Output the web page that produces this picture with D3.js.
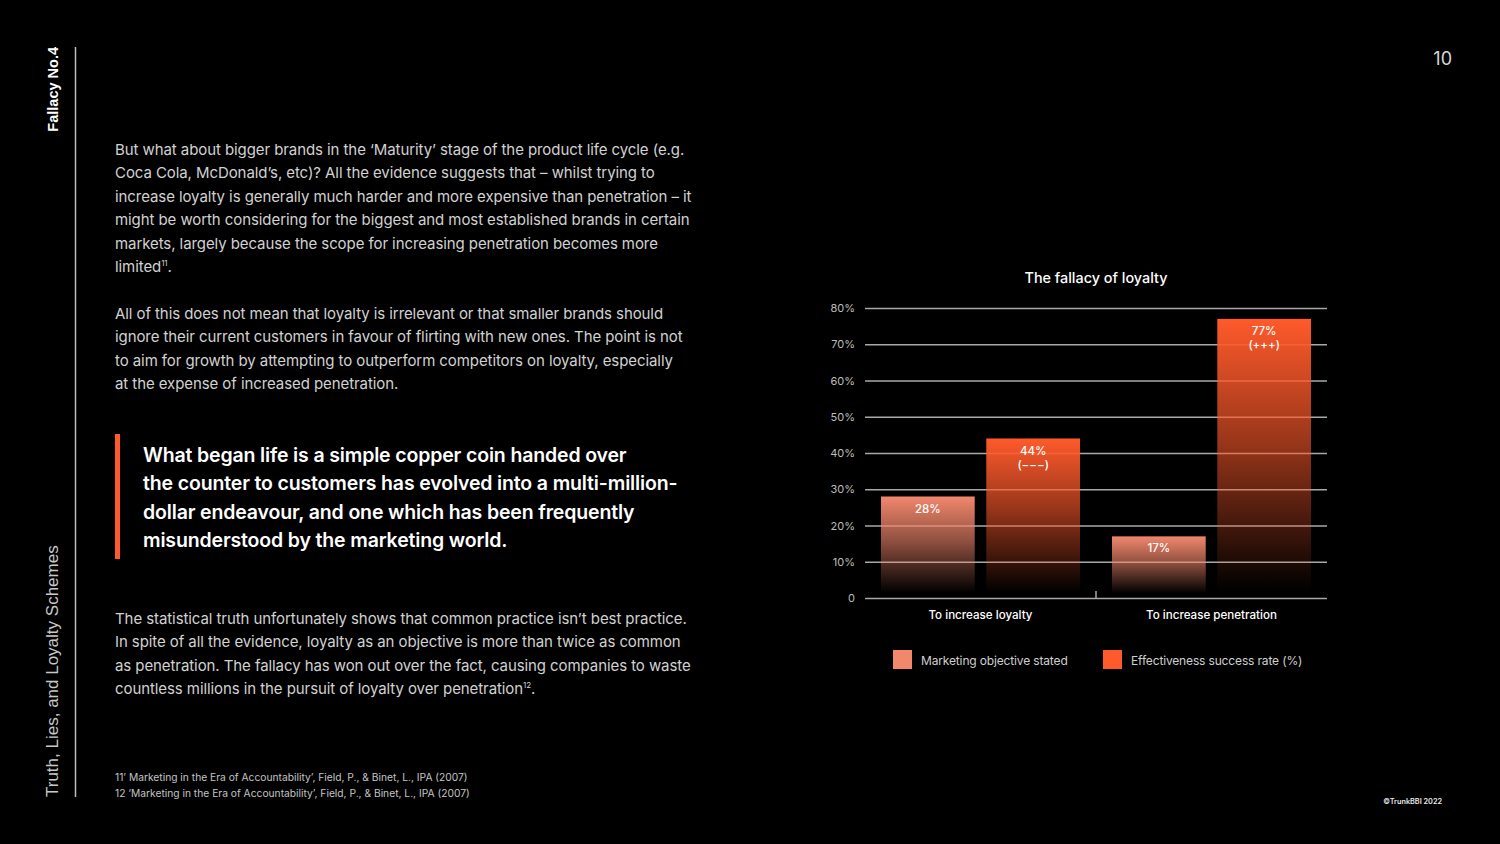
<!DOCTYPE html>
<html><head><meta charset="utf-8">
<script src="https://cdn.jsdelivr.net/npm/d3@7"></script>
<style>
html,body{margin:0;padding:0;background:#000;}
svg{display:block;}
</style></head>
<body>
<script>
// ---- data ----
const categories = ["To increase loyalty", "To increase penetration"];
const seriesNames = ["Marketing objective stated", "Effectiveness success rate (%)"];
const objectiveStated = [28, 17];
const successRate = [44, 77];
const successNotes = ["(−−−)", "(+++)"];
const yTicks = [0, 10, 20, 30, 40, 50, 60, 70, 80];
const seriesColors = ["#f2876c", "#ff5a2b"];

const para1 = ["But what about bigger brands in the \u2018Maturity\u2019 stage of the product life cycle (e.g.",
  "Coca Cola, McDonald\u2019s, etc)? All the evidence suggests that \u2013 whilst trying to",
  "increase loyalty is generally much harder and more expensive than penetration \u2013 it",
  "might be worth considering for the biggest and most established brands in certain",
  "markets, largely because the scope for increasing penetration becomes more"];
const para2 = ["All of this does not mean that loyalty is irrelevant or that smaller brands should",
  "ignore their current customers in favour of flirting with new ones. The point is not",
  "to aim for growth by attempting to outperform competitors on loyalty, especially",
  "at the expense of increased penetration."];
const quote = ["What began life is a simple copper coin handed over",
  "the counter to customers has evolved into a multi-million-",
  "dollar endeavour, and one which has been frequently",
  "misunderstood by the marketing world."];
const para3 = ["The statistical truth unfortunately shows that common practice isn\u2019t best practice.",
  "In spite of all the evidence, loyalty as an objective is more than twice as common",
  "as penetration. The fallacy has won out over the fact, causing companies to waste"];
const footnotes = ["11\u2019 Marketing in the Era of Accountability\u2019, Field, P., & Binet, L., IPA (2007)",
  "12 \u2018Marketing in the Era of Accountability\u2019, Field, P., & Binet, L., IPA (2007)"];

const W = 1500, H = 844;
const FONT = "Inter, 'Noto Sans', sans-serif";
const svg = d3.select("body").append("svg").attr("width", W).attr("height", H)
  .style("background", "#000");

// ---- side decorations ----
svg.append("line").attr("x1", 75.5).attr("x2", 75.5).attr("y1", 47).attr("y2", 797)
  .attr("stroke", "#bdbdbd").attr("stroke-width", 1.5);
svg.append("text").attr("transform", "translate(58,47) rotate(-90)")
  .attr("text-anchor", "end").attr("font-family", "'Liberation Sans', Arial, sans-serif")
  .attr("font-size", 14.5).attr("font-weight", 700).attr("fill", "#fff").text("Fallacy No.4");
svg.append("text").attr("transform", "translate(58,797) rotate(-90)")
  .attr("text-anchor", "start").attr("font-family", "'Liberation Sans', Arial, sans-serif")
  .attr("font-size", 17).attr("fill", "#c8c8c8").text("Truth, Lies, and Loyalty Schemes");
svg.append("text").attr("x", 1452).attr("y", 65).attr("text-anchor", "end")
  .attr("font-family", FONT).attr("font-size", 18).attr("fill", "#d8d8d8").text("10");
svg.append("text").attr("x", 1442).attr("y", 804).attr("text-anchor", "end")
  .attr("font-family", FONT).attr("font-size", 7.3).attr("font-weight", 600).attr("fill", "#e8e8e8").text("\u00a9TrunkBBI 2022");

// ---- body text ----
function block(lines, x, y0, lh, size, color, weight, ls) {
  const t = svg.append("g");
  lines.forEach((l, i) => {
    t.append("text").attr("x", x).attr("y", y0 + i * lh)
      .attr("font-family", FONT).attr("font-size", size).attr("font-weight", weight || 400)
      .attr("fill", color).attr("letter-spacing", ls === undefined ? -0.08 : ls).text(l);
  });
  return t;
}
const bodyColor = "#d2d2d2";
block(para1, 115, 155, 23.4, 15, bodyColor);
const lim = svg.append("text").attr("x", 115).attr("y", 155 + 5 * 23.4)
  .attr("font-family", FONT).attr("font-size", 15).attr("fill", bodyColor).attr("letter-spacing", -0.08);
lim.append("tspan").text("limited");
lim.append("tspan").attr("font-size", 8).attr("dy", -6).text("11");
lim.append("tspan").attr("dy", 6).text(".");
block(para2, 115, 319, 23.4, 15, bodyColor);
svg.append("rect").attr("x", 115).attr("y", 434).attr("width", 5).attr("height", 125).attr("fill", "#ff5a2b");
block(quote, 143, 462, 28.3, 19.5, "#fff", 600, -0.15);
block(para3, 115, 624, 23.4, 15, bodyColor);
const last = svg.append("text").attr("x", 115).attr("y", 624 + 3 * 23.4)
  .attr("font-family", FONT).attr("font-size", 15).attr("fill", bodyColor).attr("letter-spacing", -0.08);
last.append("tspan").text("countless millions in the pursuit of loyalty over penetration");
last.append("tspan").attr("font-size", 8).attr("dy", -6).text("12");
last.append("tspan").attr("dy", 6).text(".");
block(footnotes, 115, 781, 16, 10.25, "#c4c4c4", 400, 0);

// ---- chart ----
const x0 = d3.scaleBand().domain(categories).range([865, 1327]).paddingInner(0).paddingOuter(0);
const x1 = d3.scaleBand().domain([0, 1]).range([16, x0.bandwidth() - 16]).paddingInner(0.11);
const y = d3.scaleLinear().domain([0, 80]).range([598, 308]);

svg.append("text").attr("x", 1096).attr("y", 283).attr("text-anchor", "middle")
  .attr("font-family", FONT).attr("font-size", 14.4).attr("font-weight", 500).attr("fill", "#fff")
  .text("The fallacy of loyalty");

const defs = svg.append("defs");
seriesColors.forEach((c, i) => {
  const g = defs.append("linearGradient").attr("id", "grad" + i)
    .attr("x1", 0).attr("x2", 0).attr("y1", 0).attr("y2", 1);
  g.append("stop").attr("offset", "0%").attr("stop-color", c).attr("stop-opacity", 1);
  g.append("stop").attr("offset", "45%").attr("stop-color", c).attr("stop-opacity", 0.6);
  g.append("stop").attr("offset", "97%").attr("stop-color", c).attr("stop-opacity", 0.02);
  g.append("stop").attr("offset", "100%").attr("stop-color", c).attr("stop-opacity", 0);
});

// gridlines
const yAxis = d3.axisLeft(y).tickValues(yTicks).tickSize(-462)
  .tickFormat(d => d === 0 ? "0" : d + "%");
const ga = svg.append("g").attr("transform", "translate(865,0)").call(yAxis);
ga.select(".domain").remove();
ga.selectAll(".tick line").attr("stroke", "#a8a8a8").attr("stroke-width", 1.5);
ga.selectAll(".tick text").attr("x", -10).attr("fill", "#bdbdbd")
  .attr("font-family", FONT).attr("font-size", 11);

// bars
const groups = svg.append("g").selectAll("g").data(categories).join("g")
  .attr("transform", d => `translate(${x0(d)},0)`);
groups.each(function (cat, ci) {
  const vals = [objectiveStated[ci], successRate[ci]];
  const g = d3.select(this);
  vals.forEach((v, si) => {
    g.append("rect").attr("x", x1(si)).attr("y", y(v)).attr("width", x1.bandwidth())
      .attr("height", y(0) - y(v) - 4).attr("fill", `url(#grad${si})`);
    const t = g.append("text").attr("x", x1(si) + x1.bandwidth() / 2).attr("y", y(v) + 16)
      .attr("text-anchor", "middle").attr("font-family", FONT).attr("font-size", 11.5)
      .attr("font-weight", 500).attr("fill", "#fff");
    t.append("tspan").attr("x", x1(si) + x1.bandwidth() / 2).text(v + "%");
    if (si === 1) t.append("tspan").attr("x", x1(si) + x1.bandwidth() / 2).attr("dy", 14).text(successNotes[ci]);
  });
});

// x axis
const xAxis = d3.axisBottom(x0).tickSize(0);
const gx = svg.append("g").attr("transform", "translate(0,598)").call(xAxis);
gx.select(".domain").remove();
gx.selectAll(".tick text").attr("dy", 0).attr("y", 21).attr("fill", "#fff")
  .attr("font-family", FONT).attr("font-size", 11.6).attr("font-weight", 500);
svg.append("line").attr("x1", 1096).attr("x2", 1096).attr("y1", 591).attr("y2", 598)
  .attr("stroke", "#a8a8a8").attr("stroke-width", 1.5);

// legend
const lx = [893, 1103];
seriesNames.forEach((n, i) => {
  svg.append("rect").attr("x", lx[i]).attr("y", 650).attr("width", 19).attr("height", 19).attr("fill", seriesColors[i]);
  svg.append("text").attr("x", lx[i] + 28).attr("y", 665).attr("font-family", FONT)
    .attr("font-size", 12).attr("letter-spacing", -0.15).attr("fill", "#cfcfcf").text(n);
});
</script>
</body></html>
